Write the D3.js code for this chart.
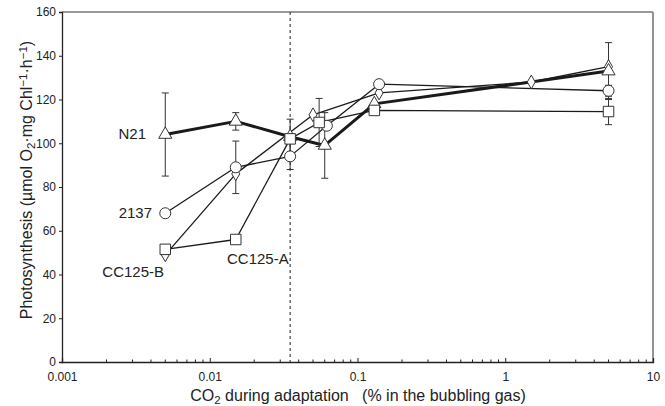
<!DOCTYPE html>
<html><head><meta charset="utf-8">
<script src="https://cdn.jsdelivr.net/npm/d3@7"></script>
<style>
body{margin:0;background:#fff;}
text{font-family:"Liberation Sans",Arial,sans-serif;fill:#222;}
</style></head>
<body><svg id="c" width="665" height="406"></svg>
<script>
// ---- data ----
const xTicks = [0.001, 0.01, 0.1, 1, 10];
const xTickLabels = ["0.001", "0.01", "0.1", "1", "10"];
const yTicks = [0, 20, 40, 60, 80, 100, 120, 140, 160];
const ambientCO2 = 0.035;

const n21X   = [0.005, 0.015, 0.035, 0.06, 0.13, 5];
const n21Y   = [104, 110, 103, 99, 118, 133];
const n21Err = [19, 4, 8, 15, 0, 13];

const s2137X   = [0.005, 0.015, 0.035, 0.062, 0.14, 5];
const s2137Y   = [68, 89, 94, 108, 127, 124];
const s2137Err = [0, 12, 6, 0, 0, 2.5];

const ccbX = [0.005, 0.015, 0.05, 0.14, 1.5, 5];
const ccbY = [49, 86, 113, 123, 128, 135];

const ccaX   = [0.005, 0.015, 0.035, 0.055, 0.13, 5];
const ccaY   = [51.5, 56, 102, 109.5, 115, 114.5];
const ccaErr = [0, 0, 0, 11, 0, 6];

// ---- layout ----
const svg = d3.select("#c");
const L = 62, R = 653, T = 12, B = 362;
const x = d3.scaleLog().domain([0.001, 10]).range([L, R]);
const y = d3.scaleLinear().domain([0, 160]).range([B, T]);

// frame (top/right)
svg.append("line").attr("x1", L).attr("x2", R).attr("y1", T).attr("y2", T)
  .attr("stroke", "#777").attr("stroke-width", 1.5);
svg.append("line").attr("x1", R).attr("x2", R).attr("y1", T).attr("y2", B)
  .attr("stroke", "#888").attr("stroke-width", 1.8);

// y axis
const yAxis = d3.axisLeft(y).tickValues(yTicks).tickSize(3).tickPadding(3);
const gy = svg.append("g").attr("transform", `translate(${L},0)`).call(yAxis);
gy.select(".domain").attr("stroke", "#222").attr("stroke-width", 1.3);
gy.selectAll("line").attr("stroke", "#222");
gy.selectAll("text").style("font-size", "12px").attr("fill", "#333")
  .style("font-family", "Liberation Sans, Arial, sans-serif");

// x axis: minor ticks inward
const minor = [];
for (let e = -3; e < 1; e++) for (let m = 2; m <= 9; m++) minor.push(m * Math.pow(10, e));
svg.append("g").selectAll("line").data(minor).join("line")
  .attr("x1", d => x(d)).attr("x2", d => x(d)).attr("y1", B).attr("y2", B - 2.5)
  .attr("stroke", "#222").attr("stroke-width", 1);
const xAxis = d3.axisBottom(x).tickValues(xTicks).tickSize(-4).tickPadding(10)
  .tickFormat((d, i) => xTickLabels[i]);
const gx = svg.append("g").attr("transform", `translate(0,${B})`).call(xAxis);
gx.select(".domain").attr("stroke", "#222").attr("stroke-width", 1.3);
gx.selectAll("line").attr("stroke", "#222");
gx.selectAll("text").style("font-size", "12px").attr("fill", "#333")
  .style("font-family", "Liberation Sans, Arial, sans-serif");

// ambient dashed line
svg.append("line").attr("x1", x(ambientCO2)).attr("x2", x(ambientCO2))
  .attr("y1", T).attr("y2", B).attr("stroke", "#222").attr("stroke-width", 1)
  .attr("stroke-dasharray", "3,3");

// axis titles
const xt = svg.append("text").attr("x", 358).attr("y", 401).attr("text-anchor", "middle")
  .style("font-size", "16px");
xt.append("tspan").text("CO");
xt.append("tspan").attr("baseline-shift", "-25%").style("font-size", "11.5px").text("2");
xt.append("tspan").attr("xml:space", "preserve").text(" during adaptation   (% in the bubbling gas)");

const yt = svg.append("text").attr("transform", "translate(32,180) rotate(-90)")
  .attr("text-anchor", "middle").style("font-size", "16px");
yt.append("tspan").text("Photosynthesis (µmol O");
yt.append("tspan").attr("baseline-shift", "-25%").style("font-size", "11.5px").text("2");
yt.append("tspan").text("·mg Chl");
yt.append("tspan").attr("baseline-shift", "40%").style("font-size", "11.5px").text("−1");
yt.append("tspan").text("·h");
yt.append("tspan").attr("baseline-shift", "40%").style("font-size", "11.5px").text("−1");
yt.append("tspan").text(")");

// series
const zip = (xs, ys, es) => xs.map((v, i) => ({x: v, y: ys[i], e: es ? es[i] : 0}));
const n21 = zip(n21X, n21Y, n21Err);
const s2137 = zip(s2137X, s2137Y, s2137Err);
const ccb = zip(ccbX, ccbY);
const cca = zip(ccaX, ccaY, ccaErr);

const line = d3.line().x(d => x(d.x)).y(d => y(d.y));
[[s2137, 1.3], [ccb, 1.3], [cca, 1.3], [n21, 3]].forEach(([d, w]) => {
  svg.append("path").datum(d).attr("d", line).attr("fill", "none")
    .attr("stroke", "#1a1a1a").attr("stroke-width", w).attr("stroke-linejoin", "round");
});

// error bars
const errs = [...n21, ...s2137, ...cca].filter(d => d.e > 0);
const ge = svg.append("g").attr("stroke", "#333").attr("stroke-width", 1);
errs.forEach(d => {
  const cx = x(d.x);
  ge.append("line").attr("x1", cx).attr("x2", cx).attr("y1", y(d.y + d.e)).attr("y2", y(d.y - d.e));
  [d.y + d.e, d.y - d.e].forEach(v => ge.append("line").attr("x1", cx - 3.5).attr("x2", cx + 3.5)
    .attr("y1", y(v)).attr("y2", y(v)));
});

// markers
function markers(data, sym, size) {
  svg.append("g").selectAll("path").data(data).join("path")
    .attr("transform", d => `translate(${x(d.x)},${y(d.y)})`)
    .attr("d", d3.symbol().type(sym).size(size))
    .attr("fill", "#fff").attr("stroke", "#333").attr("stroke-width", 1);
}
markers(ccb, d3.symbolDiamond, 55);
markers(s2137, d3.symbolCircle, 95);
markers(n21, d3.symbolTriangle, 75);
markers(cca, d3.symbolSquare, 110);

// series labels
const lab = (t, xx, yy, anchor) => svg.append("text").attr("x", xx).attr("y", yy)
  .attr("text-anchor", anchor).style("font-size", "15px").attr("fill", "#222").text(t);
lab("N21", 146, 139, "end");
lab("2137", 152, 218, "end");
lab("CC125-B", 164, 277, "end");
lab("CC125-A", 227, 264, "start");
</script></body></html>
